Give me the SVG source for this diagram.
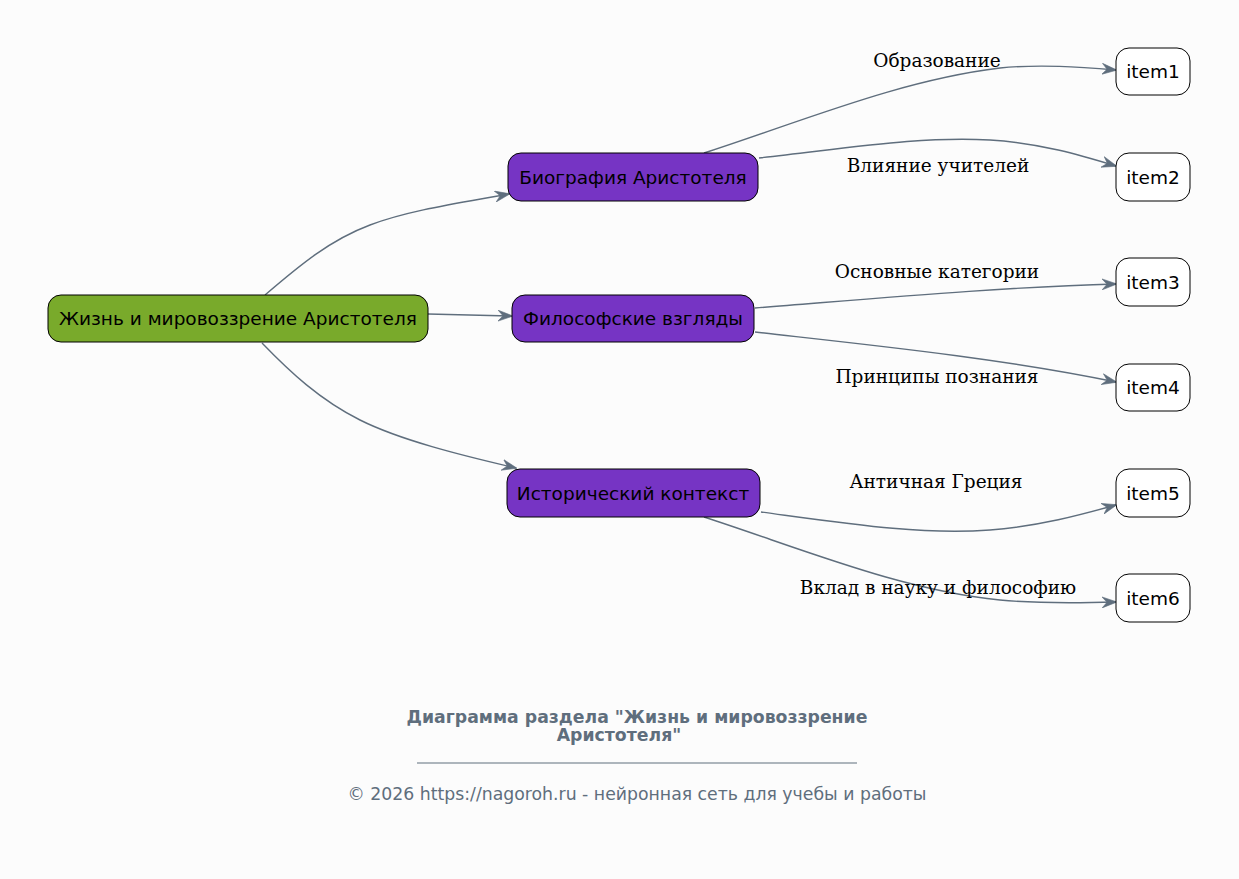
<svg xmlns="http://www.w3.org/2000/svg" width="1239" height="879" viewBox="0 0 1239 879">
<style>
.node rect{stroke:#000;stroke-width:1}
.nt{font-family:"DejaVu Sans",sans-serif;font-size:18.5px;fill:#000;text-anchor:middle;dominant-baseline:central}
.el{font-family:"DejaVu Serif",serif;font-size:18.5px;fill:#000;text-anchor:middle}
.edges path{fill:none;stroke:#5f6e7d;stroke-width:1.4;marker-end:url(#arr)}
.ft{font-family:"DejaVu Sans",sans-serif;fill:#5f6e7d;text-anchor:middle}
</style>
<defs>
<marker id="arr" viewBox="0 0 15 12" refX="14" refY="6" markerWidth="15" markerHeight="12" markerUnits="userSpaceOnUse" orient="auto">
<path d="M0,0.5 L15,6 L0,11.5 L5,6 Z" fill="#5f6e7d" stroke="#5f6e7d" stroke-width="0.6"/>
</marker>
</defs>
<rect width="1239" height="879" fill="#fcfcfc"/>
<g class="edges">
<path d="M265,295 C300,265 330,240 370,225 C410,210 460,203 509,194"/>
<path d="M428,314 L512,316"/>
<path d="M262,343 C290,372 320,400 360,420 C400,440 460,455 516,468"/>
<path d="M704,153 C800,122 900,80 1000,68 C1040,64 1080,67 1116,70"/>
<path d="M759,158 C850,148 920,136 990,140 C1040,143 1080,155 1116,166"/>
<path d="M755,308 C870,299 1000,287 1116,284"/>
<path d="M755,332 C870,345 1000,358 1116,382"/>
<path d="M761,512 C850,524 920,535 990,530 C1040,526 1080,515 1116,505"/>
<path d="M704,517 C800,548 900,590 1000,600 C1040,604 1080,603 1116,602"/>
</g>
<g class="el">
<text x="937" y="67">Образование</text>
<text x="938" y="172">Влияние учителей</text>
<text x="937" y="278">Основные категории</text>
<text x="937" y="383">Принципы познания</text>
<text x="936" y="488">Античная Греция</text>
<text x="938" y="594">Вклад в науку и философию</text>
</g>
<g id="root" class="node"><rect x="48" y="295" width="380" height="47" rx="13" fill="#79aa2b"/><text class="nt" x="238" y="318">Жизнь и мировоззрение Аристотеля</text></g>
<g id="bio" class="node"><rect x="508" y="153" width="250" height="48" rx="13" fill="#7634c4"/><text class="nt" x="633" y="177">Биография Аристотеля</text></g>
<g id="phil" class="node"><rect x="512" y="295" width="242" height="47" rx="13" fill="#7634c4"/><text class="nt" x="633" y="318">Философские взгляды</text></g>
<g id="hist" class="node"><rect x="507" y="469" width="253" height="48" rx="13" fill="#7634c4"/><text class="nt" x="633" y="493">Исторический контекст</text></g>
<g id="item1" class="node"><rect x="1116" y="48" width="74" height="47" rx="13" fill="#fff"/><text class="nt" x="1153" y="71">item1</text></g>
<g id="item2" class="node"><rect x="1116" y="153" width="74" height="48" rx="13" fill="#fff"/><text class="nt" x="1153" y="177">item2</text></g>
<g id="item3" class="node"><rect x="1116" y="258" width="74" height="48" rx="13" fill="#fff"/><text class="nt" x="1153" y="282">item3</text></g>
<g id="item4" class="node"><rect x="1116" y="364" width="74" height="47" rx="13" fill="#fff"/><text class="nt" x="1153" y="387">item4</text></g>
<g id="item5" class="node"><rect x="1116" y="469" width="74" height="48" rx="13" fill="#fff"/><text class="nt" x="1153" y="493">item5</text></g>
<g id="item6" class="node"><rect x="1116" y="574" width="74" height="48" rx="13" fill="#fff"/><text class="nt" x="1153" y="598">item6</text></g>
<g id="footer">
<text class="ft" x="637" y="723" font-size="17.3" font-weight="bold">Диаграмма раздела "Жизнь и мировоззрение</text>
<text class="ft" x="619" y="741" font-size="17.3" font-weight="bold">Аристотеля"</text>
<line x1="417" y1="763" x2="857" y2="763" stroke="#5f6e7d" stroke-width="1"/>
<text class="ft" x="637" y="800" font-size="17.3">© 2026 https://nagoroh.ru - нейронная сеть для учебы и работы</text>
</g>
</svg>
